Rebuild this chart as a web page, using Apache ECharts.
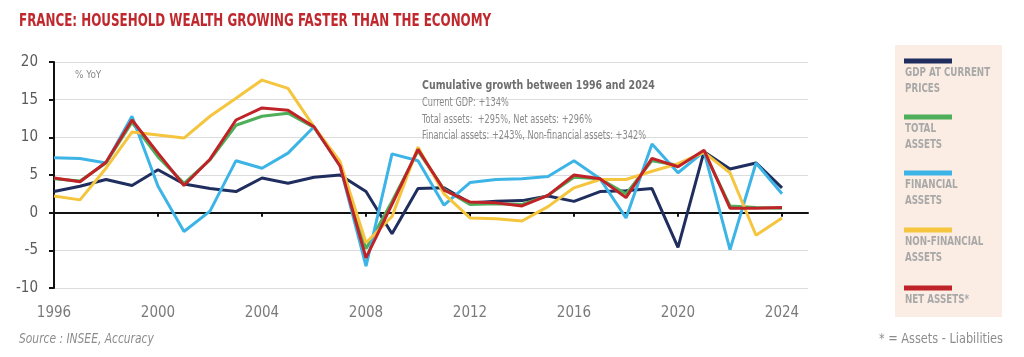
<!DOCTYPE html>
<html>
<head>
<meta charset="utf-8">
<script src="https://cdn.jsdelivr.net/npm/echarts@6/dist/echarts.min.js"></script>
<style>
html,body{margin:0;padding:0;background:#fff;}
#chart{width:1024px;height:357px;}
</style>
</head>
<body>
<div id="chart"></div>
<script>
// ---- data ----
var years = ['1996','1997','1998','1999','2000','2001','2002','2003','2004','2005','2006','2007','2008','2009','2010','2011','2012','2013','2014','2015','2016','2017','2018','2019','2020','2021','2022','2023','2024'];
var gdp = [2.8, 3.5, 4.4, 3.6, 5.7, 3.8, 3.2, 2.8, 4.6, 3.9, 4.7, 5.0, 2.8, -2.8, 3.2, 3.3, 1.3, 1.5, 1.6, 2.2, 1.5, 2.8, 2.9, 3.2, -4.6, 8.1, 5.8, 6.6, 3.3];
var totalAssets = [4.5, 4.2, 6.6, 12.0, 7.4, 3.9, 7.0, 11.6, 12.8, 13.2, 11.3, 6.4, -4.8, 1.5, 8.2, 3.1, 1.1, 1.2, 1.1, 2.3, 4.7, 4.5, 2.5, 6.9, 6.3, 8.1, 0.9, 0.7, 0.6];
var financialAssets = [7.3, 7.2, 6.6, 12.8, 3.5, -2.5, 0.2, 6.9, 5.9, 7.9, 11.4, 6.2, -7.1, 7.8, 6.9, 1.0, 4.0, 4.4, 4.5, 4.8, 6.9, 4.5, -0.7, 9.1, 5.3, 8.1, -4.9, 6.6, 2.5];
var nonFinancialAssets = [2.2, 1.7, 5.9, 10.7, 10.3, 9.9, 12.8, 15.2, 17.6, 16.5, 11.4, 6.8, -4.0, -0.5, 8.7, 2.5, -0.7, -0.8, -1.1, 0.8, 3.3, 4.4, 4.4, 5.5, 6.5, 8.0, 5.3, -3.0, -0.7];
var netAssets = [4.6, 4.1, 6.7, 12.3, 7.9, 3.6, 7.1, 12.3, 13.9, 13.6, 11.4, 6.2, -6.0, 1.1, 8.4, 3.0, 1.4, 1.3, 0.9, 2.3, 5.0, 4.5, 2.0, 7.2, 6.1, 8.3, 0.6, 0.6, 0.7];
var yTicks = {min: -10, max: 20, interval: 5};
var seriesNames = ['GDP AT CURRENT\nPRICES', 'TOTAL\nASSETS', 'FINANCIAL\nASSETS', 'NON-FINANCIAL\nASSETS', 'NET ASSETS*'];
var seriesColors = ['#1f2e5e', '#4fae5a', '#3db4e6', '#f5c53e', '#bf2227'];
var seriesData = [gdp, totalAssets, financialAssets, nonFinancialAssets, netAssets];
var titleText = 'FRANCE: HOUSEHOLD WEALTH GROWING FASTER THAN THE ECONOMY';
var noteLines = ['Cumulative growth between 1996 and 2024', 'Current GDP: +134%', 'Total assets:  +295%, Net assets: +296%', 'Financial assets: +243%, Non-financial assets: +342%'];
var unitText = '% YoY';
var sourceText = 'Source : INSEE, Accuracy';
var footText = '* = Assets - Liabilities';

var FONT = "'DejaVu Sans Condensed', 'Roboto', sans-serif";
var axisCats = years.concat(['']);

var chart = echarts.init(document.getElementById('chart'), null, {renderer: 'canvas'});

var series = seriesData.map(function (d, i) {
  return {
    name: seriesNames[i], type: 'line', data: d, xAxisIndex: 0,
    symbol: 'none', smooth: false,
    lineStyle: {color: seriesColors[i], width: 3},
    itemStyle: {color: seriesColors[i]},
    z: 3 + i, animation: false
  };
});

function txt(x, y, text, font, fill, sx, align) {
  return {type: 'text', x: x, y: y, scaleX: sx, scaleY: 1, z: 10,
    style: {text: text, font: font, fill: fill, align: align || 'left', verticalAlign: 'middle', lineHeight: 16}};
}

var graphics = [];
// title
graphics.push(txt(19, 21, titleText, 'bold 18px ' + FONT, '#c0282d', 0.735));
// legend panel
graphics.push({type: 'rect', x: 895, y: 45, shape: {width: 107, height: 272}, style: {fill: '#fbede3'}, z: 1});
var legendTops = [61, 117, 173, 230, 288];
seriesNames.forEach(function (n, i) {
  graphics.push({type: 'rect', x: 904, y: legendTops[i] - 2.5, shape: {width: 48, height: 5}, style: {fill: seriesColors[i]}, z: 2});
  var lines = n.split('\n');
  lines.forEach(function (l, j) {
    graphics.push(txt(905, legendTops[i] + 12 + j * 16, l, 'bold 12px ' + FONT, '#a8a8a8', 0.81));
  });
});
// notes
var noteY = [86, 103, 119.5, 135.5];
noteLines.forEach(function (l, i) {
  if (i === 0) graphics.push(txt(422, noteY[i], l, 'bold 12px ' + FONT, '#6e6e6e', 0.875));
  else graphics.push(txt(422, noteY[i], l, '12px ' + FONT, '#8a8a8a', 0.76));
});
graphics.push(txt(75, 75, unitText, '11px ' + FONT, '#8a8a8a', 0.9));
graphics.push(txt(19, 339, sourceText, 'italic 14px ' + FONT, '#8c8c8c', 0.85));
graphics.push(txt(1003, 339, footText, '14px ' + FONT, '#8c8c8c', 0.9, 'right'));

var option = {
  backgroundColor: '#ffffff',
  animation: false,
  grid: {left: 54, right: 216, top: 62, bottom: 69, containLabel: false},
  xAxis: [
    {
      type: 'category', data: axisCats, boundaryGap: false, position: 'bottom',
      axisLine: {show: true, onZero: true, lineStyle: {color: '#111', width: 2}},
      axisTick: {show: true, interval: 3, length: 4, lineStyle: {color: '#111', width: 2}},
      axisLabel: {show: false},
      splitLine: {show: false}
    },
    {
      type: 'category', data: axisCats, boundaryGap: false, position: 'bottom',
      axisLine: {show: false, onZero: false},
      axisTick: {show: false},
      axisLabel: {show: true, interval: 3, margin: 18, color: '#7a7a7a', fontFamily: FONT, fontSize: 15},
      splitLine: {show: false}
    }
  ],
  yAxis: {
    type: 'value', min: yTicks.min, max: yTicks.max, interval: yTicks.interval,
    axisLine: {show: true, onZero: false, lineStyle: {color: '#111', width: 2}},
    axisTick: {show: true, length: 5, lineStyle: {color: '#111', width: 2}},
    axisLabel: {color: '#5a5a5a', fontFamily: FONT, fontSize: 15, margin: 16},
    splitLine: {show: true, lineStyle: {color: '#dcdcdc', width: 1}}
  },
  series: series,
  graphic: graphics
};
chart.setOption(option);
</script>
</body>
</html>
